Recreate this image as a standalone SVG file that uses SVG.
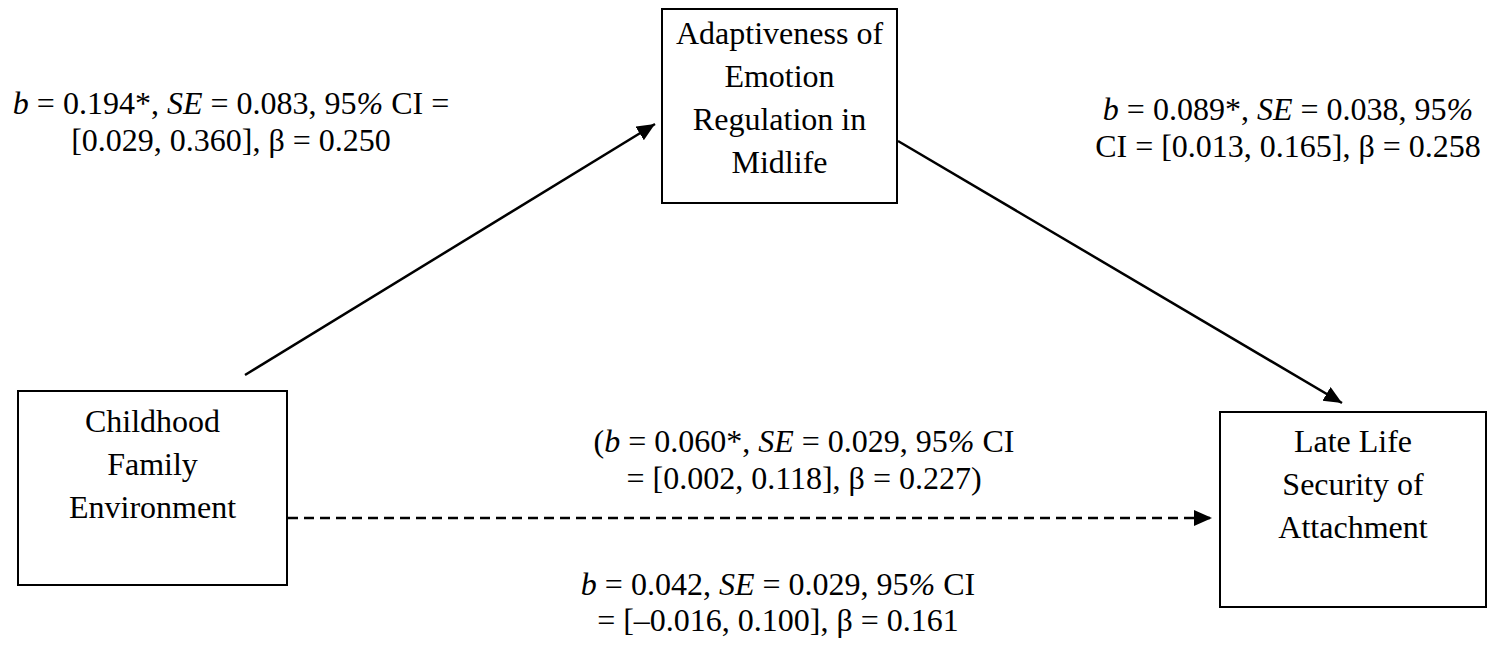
<svg xmlns="http://www.w3.org/2000/svg" width="1488" height="645" viewBox="0 0 1488 645">
<defs>
<style>
text{font-family:"Liberation Serif","Times New Roman",serif;font-size:32px;fill:#000;text-anchor:middle}
.i{font-style:italic}
.box{fill:#fff;stroke:#000;stroke-width:2}
.conn{stroke:#000;stroke-width:2.5;fill:none}
.dash{stroke-dasharray:10 6}
</style>
<marker id="ah" markerUnits="userSpaceOnUse" markerWidth="20" markerHeight="18" refX="18" refY="8" orient="auto">
<path d="M0,0 L18,8 L0,16 z" fill="#000"/>
</marker>
</defs>
<rect width="1488" height="645" fill="#fff"/>
<g id="connectors">
<line class="conn" x1="245" y1="375" x2="655" y2="124" marker-end="url(#ah)"/>
<line class="conn" x1="898" y1="141" x2="1342" y2="403" marker-end="url(#ah)"/>
<line class="conn dash" x1="288" y1="518" x2="1212" y2="518" marker-end="url(#ah)"/>
</g>
<g id="node-mediator">
<rect class="box" x="662" y="9" width="235" height="194"/>
<text x="779.5" y="44">Adaptiveness of</text>
<text x="779.5" y="87">Emotion</text>
<text x="779.5" y="130">Regulation in</text>
<text x="779.5" y="173">Midlife</text>
</g>
<g id="node-predictor">
<rect class="box" x="18" y="391" width="269" height="194"/>
<text x="152.5" y="432">Childhood</text>
<text x="152.5" y="475">Family</text>
<text x="152.5" y="518">Environment</text>
</g>
<g id="node-outcome">
<rect class="box" x="1220" y="412" width="266" height="195"/>
<text x="1353" y="452">Late Life</text>
<text x="1353" y="495">Security of</text>
<text x="1353" y="538">Attachment</text>
</g>
<g id="label-a">
<text x="231" y="114"><tspan class="i">b</tspan> = 0.194*, <tspan class="i">SE</tspan> = 0.083, 95<tspan class="i">%</tspan> CI =</text>
<text x="231" y="151">[0.029, 0.360], β = 0.250</text>
</g>
<g id="label-b">
<text x="1288" y="120"><tspan class="i">b</tspan> = 0.089*, <tspan class="i">SE</tspan> = 0.038, 95<tspan class="i">%</tspan></text>
<text x="1288" y="157">CI = [0.013, 0.165], β = 0.258</text>
</g>
<g id="label-c">
<text x="804" y="452">(<tspan class="i">b</tspan> = 0.060*, <tspan class="i">SE</tspan> = 0.029, 95<tspan class="i">%</tspan> CI</text>
<text x="804" y="489">= [0.002, 0.118], β = 0.227)</text>
</g>
<g id="label-d">
<text x="778" y="595"><tspan class="i">b</tspan> = 0.042, <tspan class="i">SE</tspan> = 0.029, 95<tspan class="i">%</tspan> CI</text>
<text x="778" y="631">= [–0.016, 0.100], β = 0.161</text>
</g>
</svg>
